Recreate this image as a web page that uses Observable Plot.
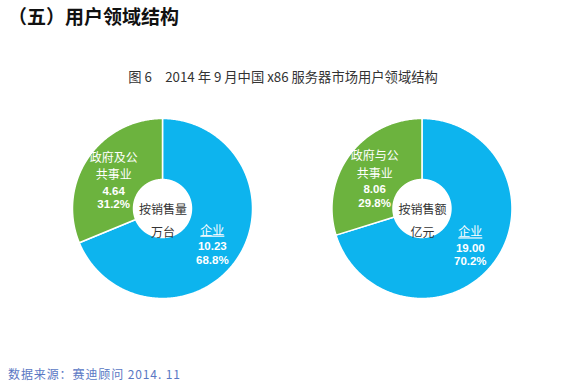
<!DOCTYPE html>
<html>
<head>
<meta charset="utf-8">
<script src="https://cdn.jsdelivr.net/npm/d3@7"></script>
<script src="https://cdn.jsdelivr.net/npm/@observablehq/plot@0.6"></script>
<style>
  html, body { margin: 0; padding: 0; background: #fff; }
  body { width: 581px; height: 385px; position: relative; overflow: hidden;
         font-family: "Noto Sans CJK SC", "Noto Sans", sans-serif; }
  #title { position: absolute; left: 8px; top: 2px; font-size: 19px; font-weight: bold; color: #111; line-height: 28px; }
  #subtitle { position: absolute; left: 0; width: 566px; top: 67px; text-align: center; font-size: 13.3px; color: #333; line-height: 20px; }
  #chart { position: absolute; left: 0; top: 90px; }
  #source { position: absolute; left: 8px; top: 364px; font-size: 12px; color: #5a78c4; line-height: 20px; letter-spacing: 0.9px; }
  #chart a text { text-decoration: underline; }
</style>
</head>
<body>
<div id="title">（五）用户领域结构</div>
<div id="subtitle">图 6　2014 年 9 月中国 x86 服务器市场用户领域结构</div>
<div id="chart"></div>
<div id="source">数据来源：赛迪顾问 2014. 11</div>
<script>
// ---- data ----
const charts = ["按销售量\n万台", "按销售额\n亿元"];
const categories = ["企业", "政府及公\n共事业"];
const categoriesAlt = ["企业", "政府与公\n共事业"];
const unitsValues = [10.23, 4.64];
const unitsShares = ["68.8%", "31.2%"];
const revenueValues = [19.00, 8.06];
const revenueShares = ["70.2%", "29.8%"];
const colors = ["#0db4ee", "#6cb33e"];

const series = [
  {chart: charts[0], names: categories, values: unitsValues, shares: unitsShares},
  {chart: charts[1], names: categoriesAlt, values: revenueValues, shares: revenueShares}
];

// layout in radius units (pie radius = 1)
const gap = 2.883;     // distance between pie centres
const inner = 0.322;   // hole radius
const labelRx = 0.66, labelRy = 0.55;

const ring = [];
const labels = [];
const centers = [];
series.forEach((s, i) => {
  const cx = i * gap;
  const pie = d3.pie().sort(null).value(d => d)(s.values);
  centers.push({x: cx, y: 0, text: s.chart});
  pie.forEach((p, j) => {
    const steps = Math.max(2, Math.ceil((p.endAngle - p.startAngle) / 0.01));
    for (let k = 0; k <= steps; k++) {
      const a = p.startAngle + (p.endAngle - p.startAngle) * k / steps;
      ring.push({
        key: i + "-" + j, cat: j,
        x1: cx + inner * Math.sin(a), y1: inner * Math.cos(a),
        x2: cx + Math.sin(a), y2: Math.cos(a)
      });
    }
    const m = (p.startAngle + p.endAngle) / 2;
    labels.push({
      x: cx + labelRx * Math.sin(m), y: labelRy * Math.cos(m),
      name: s.names[j],
      value: s.values[j].toFixed(2) + "\n" + s.shares[j],
      href: j === 0 ? "#" : null
    });
  });
});

const unit = 90; // px per radius unit
const W = 581, H = 250, cxPx = 162.5, cyPx = 118.5;

const plot = Plot.plot({
  width: W, height: H,
  margin: 0,
  x: {domain: [-cxPx / unit, (W - cxPx) / unit], axis: null},
  y: {domain: [-(H - cyPx) / unit, cyPx / unit], axis: null},
  color: {domain: [0, 1], range: colors},
  style: {fontFamily: '"Noto Sans CJK SC", "Noto Sans", sans-serif', background: "transparent"},
  marks: [
    Plot.area(ring, {x1: "x1", y1: "y1", x2: "x2", y2: "y2", z: "key", fill: d => d.cat,
      stroke: "white", strokeWidth: 1.5, curve: "linear"}),
    Plot.text(labels, {x: "x", y: "y", text: "name", href: "href", lineAnchor: "bottom",
      fill: "white", fontSize: 12, lineHeight: 1.45, dy: -2}),
    Plot.text(labels, {x: "x", y: "y", text: "value", lineAnchor: "top",
      fill: "white", fontSize: 11.5, fontWeight: "bold", fontFamily: '"Liberation Sans", Arial, sans-serif',
      lineHeight: 1.17, dy: 4}),
    Plot.text(centers, {x: "x", y: "y", text: "text", fill: "#333", fontSize: 12,
      lineHeight: 1.9, lineAnchor: "middle", dy: 9})
  ]
});
document.getElementById("chart").appendChild(plot);
</script>
</body>
</html>
